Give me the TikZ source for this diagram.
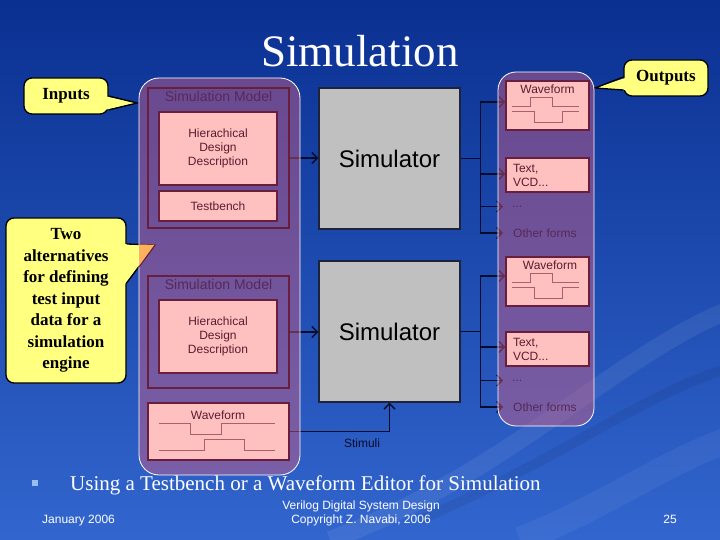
\documentclass[tikz,border=0pt]{standalone}
\usepackage{fontspec}
\setmainfont{Liberation Serif}
\setsansfont{Liberation Sans}
\usetikzlibrary{arrows.meta,calc}
\pgfdeclarelayer{bgl}
\pgfdeclarelayer{conl}
\pgfdeclarelayer{panl}
\pgfsetlayers{bgl,conl,panl,main}
\definecolor{bgtop}{RGB}{10,48,145}
\definecolor{bgmid}{RGB}{46,96,202}
\definecolor{bgbot}{RGB}{50,102,206}
\definecolor{panelc}{RGB}{215,95,130}
\definecolor{pinkc}{RGB}{255,192,192}
\definecolor{boxred}{RGB}{105,30,62}
\definecolor{txtred}{RGB}{92,28,48}
\definecolor{modeltxt}{RGB}{88,40,88}
\definecolor{simgrey}{RGB}{192,192,192}
\definecolor{simedge}{RGB}{30,35,60}
\definecolor{navyc}{RGB}{6,12,44}
\definecolor{yellowc}{RGB}{255,255,128}
\definecolor{orangec}{RGB}{255,178,92}
\definecolor{wavec}{RGB}{168,96,110}
\definecolor{bulletc}{RGB}{150,190,240}
\begin{document}
\begin{tikzpicture}[x=1pt,y=-1pt,
  pinkbox/.style={draw=boxred,fill=pinkc,line width=1.2pt,inner sep=0pt,
    font=\sffamily\fontsize{12}{14}\selectfont,text=txtred,align=center},
  modelbox/.style={draw=boxred,line width=1.2pt,inner sep=0pt},
  modeltitle/.style={font=\sffamily\fontsize{14}{16}\selectfont,text=modeltxt,inner sep=0pt},
  simbox/.style={draw=simedge,fill=simgrey,line width=1.2pt,inner sep=0pt,
    font=\sffamily\fontsize{24}{28}\selectfont,text=black},
  wflabel/.style={font=\sffamily\fontsize{12}{14}\selectfont,text=txtred,inner sep=0pt},
  outlbl/.style={font=\sffamily\fontsize{12}{14}\selectfont,text=modeltxt,inner sep=0pt,anchor=west},
  arr/.style={draw=navyc,line width=1.5pt,-{Straight Barb[length=5.5pt,width=11pt,line width=1.4pt]}},
  lin/.style={draw=navyc,line width=1.5pt},
  callout/.style={fill=yellowc,draw=black,line width=1.3pt,rounded corners=8pt,
    font=\bfseries\fontsize{17}{21.5}\selectfont,align=center,inner sep=0pt,text=black},
  pointer/.style={fill=yellowc},
  pointeredge/.style={draw=black,line width=1.3pt},
  panel/.style={fill=panelc,fill opacity=0.45,draw=white,line width=0.8pt},
  wave/.style={draw=wavec,line width=1pt},
  whitetxt/.style={text=white,inner sep=0pt},
  foot/.style={text=white,inner sep=0pt,font=\sffamily\fontsize{12}{14}\selectfont}]
\useasboundingbox (0,0) rectangle (720,540);

% ---------- main nodes ----------
\node[whitetxt,anchor=base,font=\fontsize{45}{50}\selectfont] (title) at (360,67) {Simulation};

\node[modelbox,minimum width=141pt,minimum height=140pt] (sm1) at (218.5,158) {};
\node[modeltitle] (sm1t) at ($(sm1.north)+(0,9.5)$) {Simulation Model};
\node[pinkbox,minimum width=118pt,minimum height=73pt] (hdd1) at (218,148.5) {Hierachical\\Design\\Description};
\node[pinkbox,minimum width=118pt,minimum height=30pt] (tb1) at (218,206) {Testbench};
\node[simbox,minimum width=141pt,minimum height=141pt] (sim1) at (389.5,158.5) {Simulator};

\node[pinkbox,minimum width=83pt,minimum height=49pt] (wf1) at (547.5,105.5) {};
\node[wflabel] (wf1l) at (547.5,89) {Waveform};
\node[pinkbox,minimum height=34pt,text width=69pt,inner xsep=7pt,align=left] (txt1) at (547.5,175) {Text,\\VCD...};
\node[outlbl] (dots1) at (512,206.5) {...};
\node[outlbl] (oth1) at (513,233) {Other forms};

\node[modelbox,minimum width=141pt,minimum height=112pt] (sm2) at (218.5,332) {};
\node[modeltitle] (sm2t) at ($(sm2.north)+(0,9.5)$) {Simulation Model};
\node[pinkbox,minimum width=118pt,minimum height=73pt] (hdd2) at (218,336.5) {Hierachical\\Design\\Description};
\node[pinkbox,minimum width=141pt,minimum height=57pt] (wfin) at (218.5,431.5) {};
\node[wflabel] (wfinl) at (218,415) {Waveform};
\node[simbox,minimum width=141pt,minimum height=141pt] (sim2) at (389.5,331.5) {Simulator};
\node[font=\sffamily\fontsize{12}{14}\selectfont,text=navyc,inner sep=0pt] (stim) at (362,443) {Stimuli};

\node[pinkbox,minimum width=83pt,minimum height=49pt] (wf2) at (547.5,281.5) {};
\node[wflabel] (wf2l) at (550,265) {Waveform};
\node[pinkbox,minimum height=34pt,text width=69pt,inner xsep=7pt,align=left] (txt2) at (547.5,349) {Text,\\VCD...};
\node[outlbl] (dots2) at (512,380.5) {...};
\node[outlbl] (oth2) at (513,407) {Other forms};

% waveforms in the boxes
\begin{scope}[shift={(wf1.north west)}]
  \draw[wave] (7,26) -- (25,26) -- (25,17) -- (47,17) -- (47,26) -- (74,26);
  \draw[wave] (7,31) -- (29,31) -- (29,42) -- (57,42) -- (57,31) -- (74,31);
\end{scope}
\begin{scope}[shift={(wf2.north west)}]
  \draw[wave] (7,26) -- (25,26) -- (25,17) -- (47,17) -- (47,26) -- (74,26);
  \draw[wave] (7,31) -- (29,31) -- (29,42) -- (57,42) -- (57,31) -- (74,31);
\end{scope}
\begin{scope}[shift={(wfin.north west)}]
  \draw[wave] (12,21) -- (43,21) -- (43,32) -- (74,32) -- (74,21) -- (128,21);
  \draw[wave] (12,48) -- (57,48) -- (57,37) -- (97,37) -- (97,48) -- (128,48);
\end{scope}

% bullet and footer
\node[fill=bulletc,minimum size=6pt,inner sep=0pt] (bul) at (35,483) {};
\node[whitetxt,anchor=base west,font=\fontsize{21}{24}\selectfont] (bullettext) at (70,490) {Using a Testbench or a Waveform Editor for Simulation};
\node[foot,anchor=base west] (date) at (42,523) {January 2006};
\node[foot,anchor=base] (course) at (361,509) {Verilog Digital System Design};
\node[foot,anchor=base] (copy) at (361,523) {Copyright Z. Navabi, 2006};
\node[foot,anchor=base] (page) at (670,523) {25};

% orange visible part of the pointer of the lower callout
\fill[orangec] (139,244.5) -- (155,245) -- (139,267) -- cycle;
\draw[draw=boxred,line width=1pt] (155,245) -- (139,267);

% ---------- background ----------
\begin{pgfonlayer}{bgl}
  \shade[top color=bgtop,middle color=bgmid,bottom color=bgbot] (0,0) rectangle (720,540);
  \draw[white,opacity=0.07,line width=18pt] (330,540) .. controls (520,470) and (640,330) .. (760,300);
  \draw[navyc,opacity=0.08,line width=10pt] (420,520) .. controls (580,450) and (660,380) .. (760,360);
  \draw[white,opacity=0.05,line width=26pt] (520,540) .. controls (620,500) and (680,450) .. (760,430);
\end{pgfonlayer}

% ---------- connectors and callouts ----------
\begin{pgfonlayer}{conl}
  \draw[arr] (sm1.east) -- (sm1.east -| sim1.west);
  \draw[arr] (sm2.east) -- (sm2.east -| sim2.west);

  \coordinate (j1) at ($(sim1.east)+(20,0)$);
  \draw[lin] (sim1.east) -- (j1);
  \draw[arr] (j1) |- ([yshift=3.5pt]wf1.west);
  \draw[arr] (j1) |- ([yshift=1pt]txt1.west);
  \draw[arr] (j1) |- ([xshift=-9pt]dots1.west);
  \draw[arr] (j1) |- ([xshift=-10pt]oth1.west);

  \coordinate (j2) at ($(sim2.east)+(20,0)$);
  \draw[lin] (sim2.east) -- (j2);
  \draw[arr] (j2) |- ([yshift=5.5pt]wf2.west);
  \draw[arr] (j2) |- ([yshift=2pt]txt2.west);
  \draw[arr] (j2) |- ([xshift=-9pt]dots2.west);
  \draw[arr] (j2) |- ([xshift=-10pt]oth2.west);

  \draw[arr] (wfin.east) -| (sim2.south);

  % callouts
  \node[callout,minimum width=84pt,minimum height=36pt] (inputs) at (66,96) {Inputs};
  \fill[pointer] (104,96) -- (137,103) -- (104,110) -- cycle;
  \draw[pointeredge] (inputs.east |- 0,96) -- (137,103) -- (inputs.east |- 0,110);

  \node[callout,minimum width=84pt,minimum height=36pt] (outputs) at (666,78) {Outputs};
  \fill[pointer] (628,77) -- (595,88) -- (628,90) -- cycle;
  \draw[pointeredge] (outputs.west |- 0,77) -- (595,88) -- (outputs.west |- 0,90);

  \node[callout,minimum width=120pt,minimum height=165pt] (alts) at (66,300.5)
    {Two\\alternatives\\for defining\\test input\\data for a\\simulation\\engine};
  \fill[pointer] (121,244) -- (155,245) -- (121,289) -- cycle;
  \draw[pointeredge] (alts.east |- 0,244) -- (155,245) -- (alts.east |- 0,283);
\end{pgfonlayer}

% ---------- translucent panels ----------
\begin{pgfonlayer}{panl}
  \draw[panel,rounded corners=20pt] (139,78) rectangle (300,475);
  \draw[panel,rounded corners=18pt] (498,72) rectangle (594,426);
\end{pgfonlayer}
\end{tikzpicture}
\end{document}
